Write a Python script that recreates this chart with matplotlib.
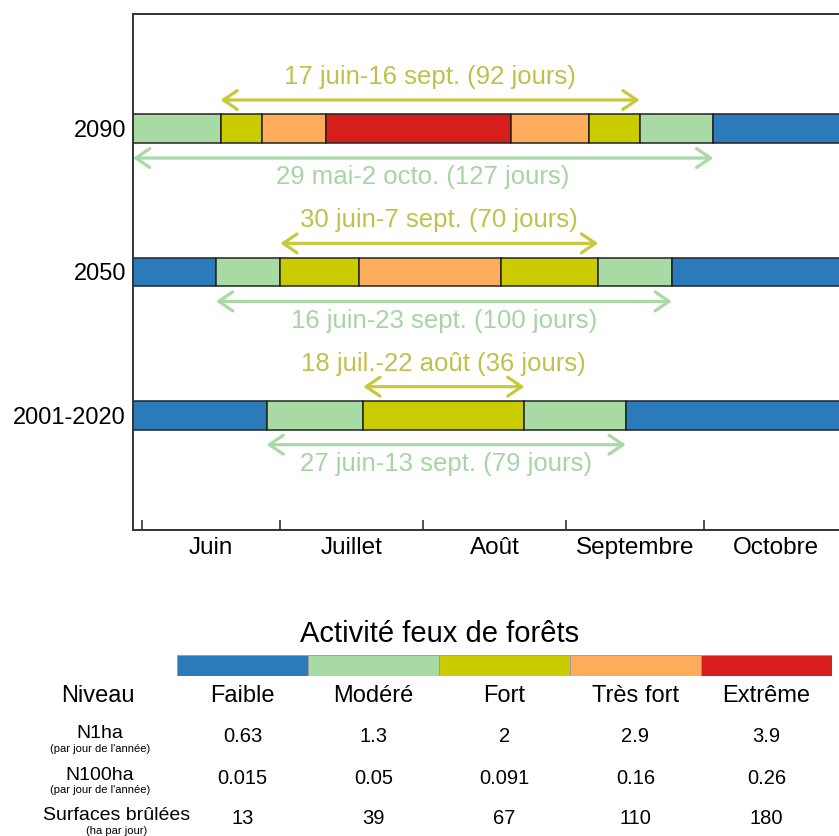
import matplotlib
matplotlib.use("Agg")
import matplotlib.pyplot as plt
from matplotlib.transforms import blended_transform_factory

plt.rcParams['font.family'] = ['Liberation Sans', 'DejaVu Sans']

# ---------------- data ----------------
periods = ['2001-2020', '2050', '2090']
levels = ['Faible', 'Modéré', 'Fort', 'Très fort', 'Extrême']
level_colors = ['#2b7bba', '#a8dba4', '#cbcc00', '#fdac5c', '#d81e1c']

# segment boundaries in days since 1 June, and danger level of each segment
bounds_2001 = [-3, 27, 48, 83, 105, 153]
levels_2001 = [0, 1, 2, 1, 0]
bounds_2050 = [-3, 16, 30, 47, 78, 99, 115, 153]
levels_2050 = [0, 1, 2, 3, 2, 1, 0]
bounds_2090 = [-3, 17, 26, 40, 80, 97, 108, 124, 153]
levels_2090 = [1, 2, 3, 4, 3, 2, 1, 0]

# season ranges (days since 1 June)
fort_ranges = [(48, 83), (30, 99), (17, 108)]
fort_labels = ['18 juil.-22 août (36 jours)', '30 juin-7 sept. (70 jours)',
               '17 juin-16 sept. (92 jours)']
mod_ranges = [(27, 105), (16, 115), (-3, 124)]
mod_labels = ['27 juin-13 sept. (79 jours)', '16 juin-23 sept. (100 jours)',
              '29 mai-2 octo. (127 jours)']

months = ['Juin', 'Juillet', 'Août', 'Septembre', 'Octobre']
month_starts = [0, 30, 61, 92, 122]
month_mids = [15, 45.5, 76.5, 107, 137.5]

table_rows = ['N1ha', 'N100ha', 'Surfaces brûlées']
table_sub = ["(par jour de l'année)", "(par jour de l'année)", '(ha par jour)']
n1ha = ['0.63', '1.3', '2', '2.9', '3.9']
n100ha = ['0.015', '0.05', '0.091', '0.16', '0.26']
surfaces = ['13', '39', '67', '110', '180']

# ---------------- figure ----------------
W, H = 839, 836
fig = plt.figure(figsize=(W / 100, H / 100), dpi=100)

XMIN, XMAX = -2.0, 151.3
ax = fig.add_axes([133 / W, 1 - 530 / H, 1 - 133 / W, (530 - 14) / H])
ax.set_xlim(XMIN, XMAX)
ax.set_ylim(0.2, 3.8)

all_bounds = [bounds_2001, bounds_2050, bounds_2090]
all_levels = [levels_2001, levels_2050, levels_2090]
bar_h = 0.2
for yi, (b, lv) in enumerate(zip(all_bounds, all_levels)):
    y = yi + 1
    for k, l in enumerate(lv):
        ax.barh(y, b[k + 1] - b[k], left=b[k], height=bar_h,
                color=level_colors[l], edgecolor='#222222', linewidth=1.1, zorder=2)

yellow_arrow = '#c8c93a'
yellow_text = '#c0c14a'
green_arrow = '#a9d9a6'
green_text = '#a8d4a5'
astyle = '<->,head_length=0.5,head_width=0.34'
for yi in range(3):
    y = yi + 1
    # fort range above
    s, e = fort_ranges[yi]
    s = max(s, XMIN)
    ax.annotate('', xy=(e, y + 0.2), xytext=(s, y + 0.2),
                arrowprops=dict(arrowstyle=astyle, color=yellow_arrow, lw=2.3,
                                shrinkA=0, shrinkB=0, mutation_scale=20))
    ax.text((s + e) / 2, y + 0.36, fort_labels[yi], ha='center', va='center',
            fontsize=18.5, color=yellow_text)
    # moderate range below
    s, e = mod_ranges[yi]
    s = max(s, XMIN)
    ax.annotate('', xy=(e, y - 0.205), xytext=(s, y - 0.205),
                arrowprops=dict(arrowstyle=astyle, color=green_arrow, lw=2.3,
                                shrinkA=0, shrinkB=0, mutation_scale=20))
    ax.text((s + e) / 2, y - 0.34, mod_labels[yi], ha='center', va='center',
            fontsize=18.5, color=green_text)

ax.set_yticks([1, 2, 3])
ax.set_yticklabels(periods, fontsize=17)
ax.tick_params(axis='y', length=0, pad=5)

ax.set_xticks(month_starts)
ax.set_xticklabels([])
ax.tick_params(axis='x', which='major', direction='in', length=7, width=1.2,
               color='#333333')
ax.set_xticks(month_mids, minor=True)
ax.set_xticklabels(months, minor=True, fontsize=17.5)
ax.tick_params(axis='x', which='minor', length=0, pad=5)

for side in ['left', 'bottom', 'top']:
    ax.spines[side].set_linewidth(1.4)
    ax.spines[side].set_color('#333333')
ax.spines['right'].set_visible(False)

# ---------------- legend / table ----------------
fig.text(440 / W, 1 - 634 / H, 'Activité feux de forêts', ha='center', va='center',
         fontsize=21)

cax = fig.add_axes([177 / W, 1 - 676 / H, 655 / W, 21 / H])
for i, c in enumerate(level_colors):
    cax.barh(0, 1, left=i, height=1, color=c, edgecolor='#999999', linewidth=0.6)
cax.set_xlim(0, 5)
cax.set_ylim(-0.5, 0.5)
cax.axis('off')

tr = blended_transform_factory(cax.transData, fig.transFigure)
fy = lambda py: 1 - py / H

fig.text(98 / W, fy(696), 'Niveau', ha='center', va='center', fontsize=17)
for i, lev in enumerate(levels):
    fig.text(i + 0.5, fy(696), lev, transform=tr, ha='center', va='center', fontsize=17)

row_vals = [n1ha, n100ha, surfaces]
row_y = [733, 775, 816]
row_x = [100, 100, 117]
sub_y = [749, 790, 831]
for r in range(3):
    fig.text(row_x[r] / W, fy(row_y[r]), table_rows[r], ha='center', va='center',
             fontsize=14)
    fig.text(row_x[r] / W, fy(sub_y[r]), table_sub[r], ha='center', va='center',
             fontsize=8)
    for i, v in enumerate(row_vals[r]):
        fig.text(i + 0.5, fy(row_y[r] + 3), v, transform=tr, ha='center',
                 va='center', fontsize=14.5)

fig.savefig('out.png', dpi=100)
